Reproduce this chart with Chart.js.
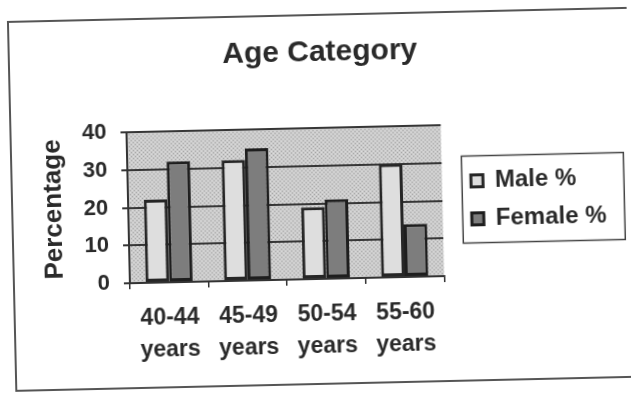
<!DOCTYPE html>
<html>
<head>
<meta charset="utf-8">
<script src="https://cdn.jsdelivr.net/npm/chart.js@4.4.1/dist/chart.umd.min.js"></script>
<style>
  html, body { margin: 0; padding: 0; background: #fff; overflow: hidden; }
  #wrap { width: 631px; height: 394px; transform: rotate(-1.3deg); transform-origin: 50% 50%; }
  canvas { display: block; }
</style>
</head>
<body>
<div id="wrap"><canvas id="chart" width="631" height="394"></canvas></div>
<script>
// Age groups on the x axis (two-line labels)
const categories = [["40-44", "years"], ["45-49", "years"], ["50-54", "years"], ["55-60", "years"]];
// Share of each age group, in percent
const maleValues = [22, 32, 19, 30];
const femaleValues = [32, 35, 21, 14];
// Value axis ticks
const yTicks = [0, 10, 20, 30, 40];

Chart.defaults.font.family = "'Liberation Sans', Arial, sans-serif";
Chart.defaults.color = '#262626';

// Dotted grey fill for the plot area
function makeStipple() {
  const c = document.createElement('canvas');
  c.width = 4; c.height = 4;
  const g = c.getContext('2d');
  g.fillStyle = '#cbcbcb';
  g.fillRect(0, 0, 4, 4);
  g.fillStyle = '#a6a6a6';
  g.fillRect(0, 0, 1, 1);
  g.fillRect(2, 2, 1, 1);
  g.fillStyle = '#dedede';
  g.fillRect(2, 0, 1, 1);
  g.fillRect(0, 2, 1, 1);
  return c;
}

const plotBackground = {
  id: 'plotBackground',
  beforeDraw(chart) {
    const { ctx, chartArea: a } = chart;
    ctx.save();
    ctx.fillStyle = ctx.createPattern(makeStipple(), 'repeat');
    ctx.fillRect(a.left, a.top, a.right - a.left, a.bottom - a.top);
    ctx.restore();
  }
};

// Outer chart frame and the box around the legend
const frames = {
  id: 'frames',
  afterDraw(chart) {
    const ctx = chart.ctx;
    ctx.save();
    ctx.strokeStyle = '#555';
    ctx.lineWidth = 2;
    ctx.strokeRect(12, 15, 640, 369);
    const hb = chart.legend.legendHitBoxes;
    if (hb && hb.length) {
      const left = Math.min(...hb.map(h => h.left)) - 9;
      const right = left + 162;
      const top = Math.min(...hb.map(h => h.top)) - 13;
      const bottom = Math.max(...hb.map(h => h.top + h.height)) + 12;
      ctx.strokeStyle = '#444';
      ctx.lineWidth = 1.5;
      ctx.strokeRect(left, top, right - left, bottom - top);
    }
    ctx.restore();
  }
};

new Chart(document.getElementById('chart'), {
  type: 'bar',
  data: {
    labels: categories,
    datasets: [
      {
        label: 'Male %',
        data: maleValues,
        backgroundColor: '#dedede',
        borderColor: '#262626',
        borderWidth: 3,
        borderSkipped: false,
        categoryPercentage: 0.6,
        barPercentage: 1.0
      },
      {
        label: 'Female %',
        data: femaleValues,
        backgroundColor: '#7d7d7d',
        borderColor: '#1e1e1e',
        borderWidth: 3,
        borderSkipped: false,
        categoryPercentage: 0.6,
        barPercentage: 1.0
      }
    ]
  },
  options: {
    responsive: false,
    animation: false,
    layout: { padding: { top: 14, left: 30, right: 15, bottom: 15 } },
    plugins: {
      tooltip: { enabled: false },
      title: {
        display: true,
        text: 'Age Category',
        color: '#2a2a2a',
        font: { size: 30, weight: 'bold' },
        padding: { top: 21, bottom: 57 }
      },
      legend: {
        position: 'right',
        fullSize: false,
        align: 'center',
        maxWidth: 220,
        labels: {
          color: '#2a2a2a',
          font: { size: 24, weight: 'bold' },
          boxWidth: 12,
          boxHeight: 12,
          padding: 14
        }
      }
    },
    scales: {
      x: {
        grid: {
          display: true,
          offset: true,
          drawOnChartArea: false,
          drawTicks: true,
          tickLength: 6,
          color: '#333',
          lineWidth: 1.5
        },
        border: { display: true, color: '#333', width: 2 },
        ticks: {
          color: '#2a2a2a',
          font: { size: 23, weight: 'bold', lineHeight: 1.38 },
          padding: 14,
          maxRotation: 0,
          autoSkip: false
        },
        afterFit(scale) { scale.height = 100; }
      },
      y: {
        min: 0,
        max: 40,
        afterBuildTicks(axis) { axis.ticks = yTicks.map(v => ({ value: v })); },
        grid: {
          color: '#363636',
          lineWidth: 2,
          drawTicks: true,
          tickLength: 6
        },
        border: { display: true, color: '#333', width: 2 },
        ticks: {
          color: '#2a2a2a',
          font: { size: 22, weight: 'bold' },
          padding: 14
        },
        title: {
          display: true,
          text: 'Percentage',
          color: '#2a2a2a',
          font: { size: 26, weight: 'bold' },
          padding: { top: 8, bottom: 0 }
        },
        afterFit(scale) { scale.width = 98; }
      },
      gap: {
        type: 'linear',
        position: 'right',
        display: true,
        grid: { display: false },
        ticks: { display: false },
        border: { display: false },
        afterFit(scale) { scale.width = 15; }
      }
    }
  },
  plugins: [plotBackground, frames]
});
</script>
</body>
</html>
